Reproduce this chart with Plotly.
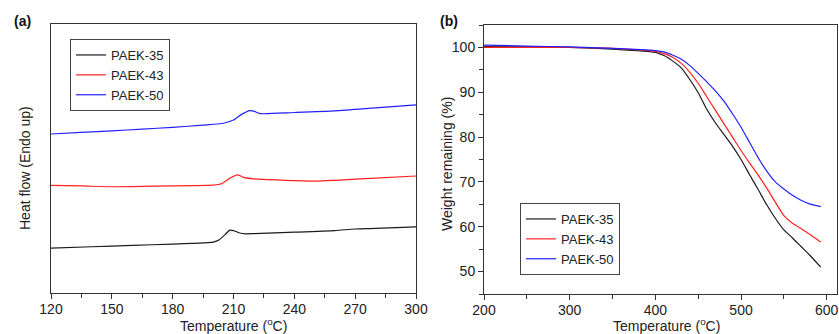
import plotly.graph_objects as go

# ---- Panel (a): DSC curves (arbitrary heat-flow units) ----
dsc_temp_35 = [120, 140, 160, 180, 195, 200, 203, 206, 208, 210, 213, 216, 220, 240, 260, 270, 280, 300]
dsc_35 = [16.7, 17.2, 17.7, 18.2, 18.6, 18.9, 19.8, 21.8, 23.3, 23.2, 22.3, 22.0, 22.1, 22.6, 23.2, 23.8, 24.0, 24.6]

dsc_temp_43 = [120, 135, 150, 170, 190, 200, 204, 208, 212, 215, 220, 235, 250, 260, 280, 300]
dsc_43 = [40.0, 39.8, 39.5, 39.7, 39.9, 40.1, 40.6, 42.6, 43.9, 43.0, 42.4, 41.9, 41.6, 41.9, 42.7, 43.5]

dsc_temp_50 = [120, 135, 150, 165, 180, 195, 205, 210, 214, 218, 220, 223, 240, 260, 280, 300]
dsc_50 = [59.1, 59.7, 60.3, 60.9, 61.6, 62.4, 63.1, 64.3, 66.4, 67.8, 67.6, 66.7, 67.1, 67.7, 68.8, 69.9]

# ---- Panel (b): TGA curves ----
tga_temp = [200, 250, 300, 350, 400, 410, 420, 430, 440, 450, 460, 470, 480, 490, 500,
            510, 520, 530, 540, 550, 560, 570, 580, 593]
tga_35 = [100.2, 100.1, 100.0, 99.6, 98.9, 98.2, 97.0, 95.5, 92.9, 89.9, 86.2, 83.2, 80.6, 78.0, 75.0,
          71.6, 68.3, 64.9, 61.9, 59.3, 57.5, 55.6, 53.7, 51.0]
tga_43 = [100.0, 100.0, 100.0, 99.8, 99.1, 98.6, 97.8, 96.5, 94.5, 92.0, 89.0, 86.0, 83.0, 80.0, 77.0,
          74.2, 71.5, 68.6, 65.5, 62.5, 60.8, 59.6, 58.3, 56.6]
tga_50 = [100.5, 100.3, 100.1, 99.8, 99.3, 99.0, 98.3, 97.4, 96.0, 94.2, 92.3, 90.3, 88.0, 85.2, 82.2,
          78.8, 75.4, 72.4, 70.0, 68.4, 67.0, 65.9, 65.1, 64.5]

names = ["PAEK-35", "PAEK-43", "PAEK-50"]
colors = ["#1a1a1a", "#ff2020", "#2020ff"]

fig = go.Figure()
for t, v, n, c in zip([dsc_temp_35, dsc_temp_43, dsc_temp_50], [dsc_35, dsc_43, dsc_50], names, colors):
    fig.add_trace(go.Scatter(x=t, y=v, mode="lines", name=n, line=dict(color=c, width=1.2, shape="spline", smoothing=0.6),
                             xaxis="x", yaxis="y", legend="legend", showlegend=True))
for v, n, c in zip([tga_35, tga_43, tga_50], names, colors):
    fig.add_trace(go.Scatter(x=tga_temp, y=v, mode="lines", name=n, line=dict(color=c, width=1.2, shape="spline", smoothing=0.6),
                             xaxis="x2", yaxis="y2", legend="legend2", showlegend=True))

W, H = 839, 334
font = dict(family="Liberation Sans, Arial, sans-serif", size=14, color="#222")
axcommon = dict(showline=True, linecolor="#333", linewidth=1, mirror=True, showgrid=False, zeroline=False,
                tickcolor="#333", tickfont=font, automargin=False)

fig.update_layout(
    width=W, height=H, margin=dict(l=0, r=0, t=0, b=0, autoexpand=False),
    paper_bgcolor="white", plot_bgcolor="white", font=font,
    xaxis=dict(domain=[51 / W, 416 / W], range=[120, 300], tick0=120, dtick=30, ticks="outside", ticklen=5,
               ticklabelstandoff=-2,
               minor=dict(ticks="outside", dtick=15, ticklen=4, tickcolor="#333"), anchor="y", **axcommon),
    yaxis=dict(domain=[1 - 293 / H, 1 - 24 / H], range=[0, 100], showticklabels=False, ticks="", anchor="x", **axcommon),
    xaxis2=dict(domain=[484 / W, 837 / W], range=[200, 612], tick0=200, dtick=100, ticks="outside", ticklen=5,
                ticklabelstandoff=-2,
                minor=dict(ticks="outside", dtick=50, ticklen=4, tickcolor="#333"), anchor="y2", **axcommon),
    yaxis2=dict(domain=[1 - 294 / H, 1 - 25 / H], range=[45, 105], tick0=50, dtick=10, ticks="outside", ticklen=5,
                minor=dict(ticks="outside", dtick=5, ticklen=4, tickcolor="#333"), anchor="x2", **axcommon),
    legend=dict(x=70 / W, y=1 - 39 / H, xanchor="left", yanchor="top", bgcolor="white",
                bordercolor="#444", borderwidth=1, font=dict(family=font["family"], size=13, color="#222"),
                tracegroupgap=0, itemwidth=30),
    legend2=dict(x=520 / W, y=1 - 203 / H, xanchor="left", yanchor="top", bgcolor="white",
                 bordercolor="#444", borderwidth=1, font=dict(family=font["family"], size=13, color="#222"),
                 tracegroupgap=0, itemwidth=30),
)

ann = [
    dict(text="<b>(a)</b>", x=22 / W, y=1 - 21 / H, xanchor="center", yanchor="middle", font=dict(size=14, family=font["family"], color="#111")),
    dict(text="<b>(b)</b>", x=449 / W, y=1 - 21 / H, xanchor="center", yanchor="middle", font=dict(size=14, family=font["family"], color="#111")),
    dict(text="Temperature (<sup>o</sup>C)", x=233 / W, y=1 - 325 / H, xanchor="center", yanchor="middle", font=font),
    dict(text="Temperature (<sup>o</sup>C)", x=666 / W, y=1 - 325 / H, xanchor="center", yanchor="middle", font=font),
    dict(text="Heat flow (Endo up)", x=25 / W, y=1 - 168 / H, xanchor="center", yanchor="middle", textangle=-90, font=font),
    dict(text="Weight remaining (%)", x=447 / W, y=1 - 164 / H, xanchor="center", yanchor="middle", textangle=-90, font=font),
]
for a in ann:
    a.update(xref="paper", yref="paper", showarrow=False)
fig.update_layout(annotations=ann)

fig.write_html("out.html")
